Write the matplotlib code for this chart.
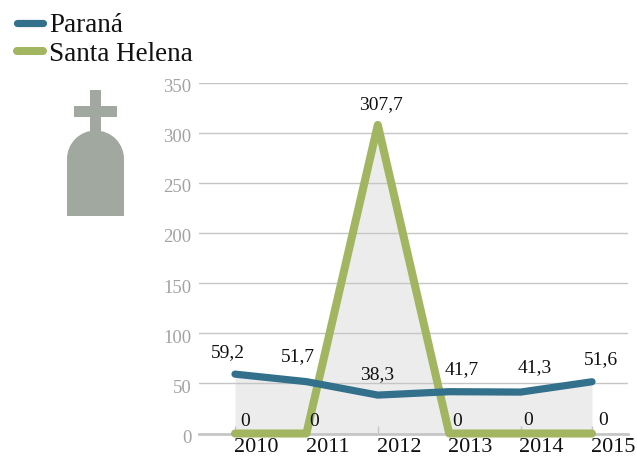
import matplotlib
matplotlib.use('Agg')
import matplotlib.pyplot as plt
from matplotlib.patches import Rectangle, Wedge
from matplotlib.transforms import ScaledTranslation

plt.rcParams['font.family'] = ['Liberation Serif', 'DejaVu Serif']

# Data
years = ['2010', '2011', '2012', '2013', '2014', '2015']
parana = [59.2, 51.7, 38.3, 41.7, 41.3, 51.6]
santa_helena = [0, 0, 307.7, 0, 0, 0]
parana_labels = ['59,2', '51,7', '38,3', '41,7', '41,3', '51,6']
santa_helena_labels = ['0', '0', '307,7', '0', '0', '0']
y_ticks = [0, 50, 100, 150, 200, 250, 300, 350]

W, H = 637, 457
BLUE = '#33708c'
GREEN = '#a2b661'
GREY = '#a0a89f'

fig = plt.figure(figsize=(W / 100, H / 100), dpi=100)
ax = fig.add_axes([199.3 / W, (H - 433.5) / H, 428.4 / W, 351 / H])
x = list(range(len(years)))

ax.fill_between(x, parana, color='#ececec', lw=0, zorder=1)
ax.fill_between(x, santa_helena, color='#ececec', lw=0, zorder=1)
ax.grid(axis='y', color='#c6c6c6', lw=1.0, zorder=2)
ax.set_axisbelow(False)

line_g, = ax.plot(x, santa_helena, color=GREEN, lw=5.8, solid_capstyle='round',
                  solid_joinstyle='round', zorder=3, label='Santa Helena', clip_on=False)
line_b, = ax.plot(x, parana, color=BLUE, lw=5.2, solid_capstyle='round',
                  solid_joinstyle='round', zorder=4, label='Paraná')

ax.set_xlim(-0.5, 5.5)
ax.set_ylim(0, 350)
ax.set_xticks(x)
ax.set_yticks(y_ticks)
ax.set_xticklabels(years, fontsize=16, color='#111111')
ax.set_yticklabels([str(v) for v in y_ticks], fontsize=13.5, color='#a3a3a3')
ax.tick_params(axis='x', direction='in', length=6, width=1, color='#c6c6c6', pad=3)
ax.tick_params(axis='y', length=0, pad=5.5)
shift = ScaledTranslation(21 / 100, 0, fig.dpi_scale_trans)
for lab in ax.get_xticklabels():
    lab.set_transform(lab.get_transform() + shift)
yshift = ScaledTranslation(0, -3 / 100, fig.dpi_scale_trans)
for lab in ax.get_yticklabels():
    lab.set_transform(lab.get_transform() + yshift)

for s in ['top', 'right', 'left']:
    ax.spines[s].set_visible(False)
ax.spines['bottom'].set_color('#c6c6c6')
ax.spines['bottom'].set_linewidth(2)

# value labels, offsets in px from the point
off_parana = [(-7, 22), (-8, 25), (-1, 20), (13, 22), (14, 24), (9, 22)]
off_zero = [(10, 12), (8, 12), (0, 0), (8, 12), (8, 13), (11, 13)]
for i in x:
    ax.annotate(parana_labels[i], (i, parana[i]), xytext=off_parana[i], textcoords='offset pixels',
                ha='center', va='center', fontsize=14, color='#111111', zorder=5)
    if santa_helena[i] == 0:
        ax.annotate(santa_helena_labels[i], (i, 0), xytext=off_zero[i], textcoords='offset pixels',
                    ha='center', va='center', fontsize=14, color='#111111', zorder=5)
ax.annotate(santa_helena_labels[2], (2, santa_helena[2]), xytext=(3, 20), textcoords='offset pixels',
            ha='center', va='center', fontsize=14, color='#111111', zorder=5)

# tombstone icon
def box(x0, y0, x1, y1):
    fig.add_artist(Rectangle((x0 / W, 1 - y1 / H), (x1 - x0) / W, (y1 - y0) / H,
                             transform=fig.transFigure, color=GREY, lw=0))

box(90, 90, 101, 135)
box(74, 106, 117, 117)
box(67, 159, 124, 216)
icon = fig.add_axes([0, 0, 1, 1], facecolor='none')
icon.set_xlim(0, W)
icon.set_ylim(H, 0)
icon.axis('off')
icon.add_patch(Wedge((95.5, 159), 28.5, 180, 360, color=GREY, lw=0))

fig.legend(handles=[line_b, line_g], loc='upper left', bbox_to_anchor=(12 / W, 1 - 8 / H),
           frameon=False, fontsize=19.5, handlelength=0.93, handletextpad=0.25,
           labelspacing=0.12, borderpad=0.2, labelcolor='#111111', borderaxespad=0)

fig.savefig('out.png', dpi=100)
